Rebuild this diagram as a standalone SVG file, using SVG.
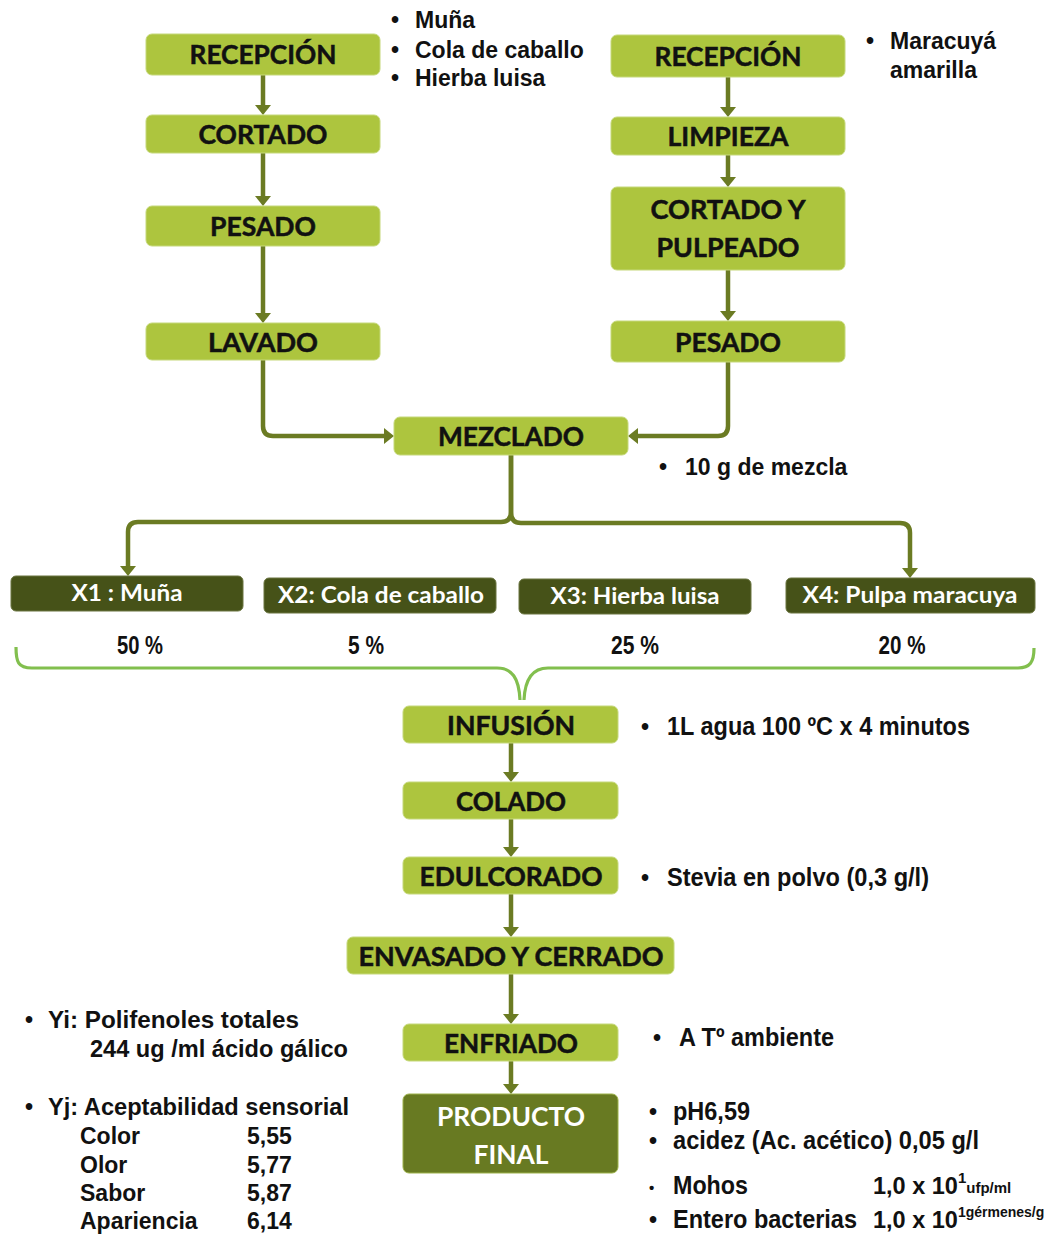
<svg xmlns="http://www.w3.org/2000/svg" width="1061" height="1235" viewBox="0 0 1061 1235">
<defs>
<marker id="ah" markerUnits="userSpaceOnUse" markerWidth="12" markerHeight="18" refX="4" refY="8" orient="auto">
<path d="M0,0 L10,8 L0,16 z" fill="#6B7B23"/>
</marker>
<style>
.step{fill:#ADC53E;stroke:#C5D87A;stroke-width:1}
.dark{fill:#465218;stroke:#6A7540;stroke-width:1}
.final{fill:#687A22;stroke:#9DB24A;stroke-width:1}
.bt{font-family:Lato,"Open Sans",sans-serif;font-weight:bold;font-size:27px;fill:#111;stroke:#111;stroke-width:0.5;text-anchor:middle}
.wt{font-family:Lato,"Open Sans",sans-serif;font-weight:bold;font-size:23px;fill:#fff;text-anchor:middle}
.ft{font-family:Lato,"Open Sans",sans-serif;font-weight:bold;font-size:27px;fill:#fff;text-anchor:middle}
.nt{font-family:"Liberation Sans",Arial,sans-serif;font-weight:bold;font-size:23px;fill:#111}
.nn{font-family:"Liberation Sans",Arial,sans-serif;font-weight:bold;font-size:25px;fill:#111}
.nm{font-family:"Liberation Sans",Arial,sans-serif;font-weight:bold;font-size:23.5px;fill:#111}
.sp{font-family:"Liberation Sans",Arial,sans-serif;font-weight:bold;font-size:15px;fill:#111}
.pc{font-family:"Liberation Sans",Arial,sans-serif;font-weight:bold;font-size:26px;fill:#111;text-anchor:middle}
.conn{fill:none;stroke:#6B7B23;stroke-width:4.5}
.brace{fill:none;stroke:#82BF4E;stroke-width:3.2}
</style>
</defs>
<rect width="1061" height="1235" fill="#fff"/>

<g id="connectors">
<path class="conn" d="M263,75 V109" marker-end="url(#ah)"/>
<path class="conn" d="M263,153 V200" marker-end="url(#ah)"/>
<path class="conn" d="M263,246 V317" marker-end="url(#ah)"/>
<path class="conn" d="M728,77 V111" marker-end="url(#ah)"/>
<path class="conn" d="M728,155 V181" marker-end="url(#ah)"/>
<path class="conn" d="M728,270 V315" marker-end="url(#ah)"/>
<path class="conn" d="M263,360 V426 Q263,436 273,436 H388" marker-end="url(#ah)"/>
<path class="conn" d="M728,362 V426 Q728,436 718,436 H634" marker-end="url(#ah)"/>
<path class="conn" d="M511,455 V512 Q511,522 501,522 H138 Q128,522 128,532 V570" marker-end="url(#ah)"/>
<path class="conn" d="M511,455 V512 Q511,523 521,523 H900 Q910,523 910,533 V572" marker-end="url(#ah)"/>
<path class="conn" d="M511,743 V776" marker-end="url(#ah)"/>
<path class="conn" d="M511,819 V851" marker-end="url(#ah)"/>
<path class="conn" d="M511,894 V931" marker-end="url(#ah)"/>
<path class="conn" d="M511,974 V1018" marker-end="url(#ah)"/>
<path class="conn" d="M511,1061 V1088" marker-end="url(#ah)"/>
<path class="brace" d="M16,647 C16,662 18,668 32,668 L497,668 C512,668 519,678 520,700"/>
<path class="brace" d="M1034,648 C1034,662 1030,668 1018,668 L548,668 C533,668 525,678 524,700"/>
</g>

<g id="n-recepcion1"><rect class="step" x="146" y="34" width="234" height="41" rx="6"/><text class="bt" x="263" y="64" textLength="147" lengthAdjust="spacingAndGlyphs">RECEPCIÓN</text></g>
<g id="n-cortado"><rect class="step" x="146" y="115" width="234" height="38" rx="6"/><text class="bt" x="263" y="144" textLength="129" lengthAdjust="spacingAndGlyphs">CORTADO</text></g>
<g id="n-pesado1"><rect class="step" x="146" y="206" width="234" height="40" rx="6"/><text class="bt" x="263" y="236" textLength="106" lengthAdjust="spacingAndGlyphs">PESADO</text></g>
<g id="n-lavado"><rect class="step" x="146" y="323" width="234" height="37" rx="6"/><text class="bt" x="263" y="352" textLength="110" lengthAdjust="spacingAndGlyphs">LAVADO</text></g>

<g id="n-recepcion2"><rect class="step" x="611" y="35" width="234" height="42" rx="6"/><text class="bt" x="728" y="66" textLength="147" lengthAdjust="spacingAndGlyphs">RECEPCIÓN</text></g>
<g id="n-limpieza"><rect class="step" x="611" y="117" width="234" height="38" rx="6"/><text class="bt" x="728" y="146" textLength="121" lengthAdjust="spacingAndGlyphs">LIMPIEZA</text></g>
<g id="n-cortado-pulpeado"><rect class="step" x="611" y="187" width="234" height="83" rx="6"/><text class="bt" x="728" y="219" textLength="155" lengthAdjust="spacingAndGlyphs">CORTADO Y</text><text class="bt" x="728" y="257" textLength="143" lengthAdjust="spacingAndGlyphs">PULPEADO</text></g>
<g id="n-pesado2"><rect class="step" x="611" y="321" width="234" height="41" rx="6"/><text class="bt" x="728" y="352" textLength="106" lengthAdjust="spacingAndGlyphs">PESADO</text></g>

<g id="n-mezclado"><rect class="step" x="394" y="417" width="234" height="38" rx="6"/><text class="bt" x="511" y="446" textLength="146" lengthAdjust="spacingAndGlyphs">MEZCLADO</text></g>

<g id="n-x1"><rect class="dark" x="11" y="576" width="232" height="35" rx="5"/><text class="wt" x="127" y="601" textLength="111" lengthAdjust="spacingAndGlyphs">X1 : Muña</text></g>
<g id="n-x2"><rect class="dark" x="264" y="578" width="232" height="35" rx="5"/><text class="wt" x="381" y="603" textLength="206" lengthAdjust="spacingAndGlyphs">X2: Cola de caballo</text></g>
<g id="n-x3"><rect class="dark" x="519" y="579" width="232" height="35" rx="5"/><text class="wt" x="635" y="604" textLength="169" lengthAdjust="spacingAndGlyphs">X3: Hierba luisa</text></g>
<g id="n-x4"><rect class="dark" x="786" y="578" width="249" height="35" rx="5"/><text class="wt" x="910" y="603" textLength="215" lengthAdjust="spacingAndGlyphs">X4: Pulpa maracuya</text></g>

<g id="percent">
<text class="pc" x="140" y="654" textLength="46" lengthAdjust="spacingAndGlyphs">50 %</text>
<text class="pc" x="366" y="654" textLength="36" lengthAdjust="spacingAndGlyphs">5 %</text>
<text class="pc" x="635" y="654" textLength="48" lengthAdjust="spacingAndGlyphs">25 %</text>
<text class="pc" x="902" y="654" textLength="47" lengthAdjust="spacingAndGlyphs">20 %</text>
</g>

<g id="n-infusion"><rect class="step" x="403" y="706" width="215" height="37" rx="6"/><text class="bt" x="511" y="735" textLength="128" lengthAdjust="spacingAndGlyphs">INFUSIÓN</text></g>
<g id="n-colado"><rect class="step" x="403" y="782" width="215" height="37" rx="6"/><text class="bt" x="511" y="811" textLength="110" lengthAdjust="spacingAndGlyphs">COLADO</text></g>
<g id="n-edulcorado"><rect class="step" x="403" y="857" width="215" height="37" rx="6"/><text class="bt" x="511" y="886" textLength="183" lengthAdjust="spacingAndGlyphs">EDULCORADO</text></g>
<g id="n-envasado"><rect class="step" x="347" y="937" width="327" height="37" rx="6"/><text class="bt" x="511" y="966" textLength="305" lengthAdjust="spacingAndGlyphs">ENVASADO Y CERRADO</text></g>
<g id="n-enfriado"><rect class="step" x="403" y="1024" width="215" height="37" rx="6"/><text class="bt" x="511" y="1053" textLength="134" lengthAdjust="spacingAndGlyphs">ENFRIADO</text></g>
<g id="n-producto"><rect class="final" x="403" y="1094" width="215" height="79" rx="6"/><text class="ft" x="511" y="1126" textLength="148" lengthAdjust="spacingAndGlyphs">PRODUCTO</text><text class="ft" x="511" y="1164" textLength="75" lengthAdjust="spacingAndGlyphs">FINAL</text></g>

<g id="notes">
<text class="nt" x="391" y="28">•</text><text class="nt" x="415" y="28">Muña</text>
<text class="nt" x="391" y="58">•</text><text class="nt" x="415" y="58">Cola de caballo</text>
<text class="nt" x="391" y="86">•</text><text class="nt" x="415" y="86">Hierba luisa</text>
<text class="nt" x="866" y="49">•</text><text class="nt" x="890" y="49">Maracuyá</text>
<text class="nt" x="890" y="78">amarilla</text>
<text class="nt" x="659" y="475">•</text><text class="nt" x="685" y="475">10 g de mezcla</text>
<text class="nt" x="641" y="735">•</text><text class="nn" x="667" y="735" textLength="303" lengthAdjust="spacingAndGlyphs">1L agua 100 ºC x 4 minutos</text>
<text class="nt" x="641" y="886">•</text><text class="nn" x="667" y="886" textLength="262" lengthAdjust="spacingAndGlyphs">Stevia en polvo (0,3 g/l)</text>
<text class="nt" x="653" y="1046">•</text><text class="nn" x="679" y="1046" textLength="155" lengthAdjust="spacingAndGlyphs">A Tº ambiente</text>

<text class="nt" x="25" y="1028">•</text><text class="nt" x="48" y="1028" textLength="251" lengthAdjust="spacingAndGlyphs">Yi:  Polifenoles totales</text>
<text class="nt" x="90" y="1057" textLength="258" lengthAdjust="spacingAndGlyphs">244 ug /ml ácido gálico</text>
<text class="nt" x="25" y="1115">•</text><text class="nt" x="48" y="1115" textLength="301" lengthAdjust="spacingAndGlyphs">Yj: Aceptabilidad sensorial</text>
<text class="nt" x="80" y="1144">Color</text><text class="nt" x="247" y="1144">5,55</text>
<text class="nt" x="80" y="1173">Olor</text><text class="nt" x="247" y="1173">5,77</text>
<text class="nt" x="80" y="1201">Sabor</text><text class="nt" x="247" y="1201">5,87</text>
<text class="nt" x="80" y="1229">Apariencia</text><text class="nt" x="247" y="1229">6,14</text>

<text class="nt" x="649" y="1120">•</text><text class="nn" x="673" y="1120" textLength="77" lengthAdjust="spacingAndGlyphs">pH6,59</text>
<text class="nt" x="649" y="1149">•</text><text class="nn" x="673" y="1149" textLength="306" lengthAdjust="spacingAndGlyphs">acidez (Ac. acético) 0,05 g/l</text>
<text class="sp" x="649" y="1193">•</text><text class="nn" x="673" y="1194" textLength="75" lengthAdjust="spacingAndGlyphs">Mohos</text>
<text class="nm" x="873" y="1194">1,0 x 10<tspan font-size="15" dy="-11">1</tspan><tspan font-size="15" dy="10">ufp/ml</tspan></text>
<text class="nt" x="649" y="1228">•</text><text class="nn" x="673" y="1228" textLength="184" lengthAdjust="spacingAndGlyphs">Entero bacterias</text>
<text class="nm" x="873" y="1228">1,0 x 10<tspan font-size="14" dy="-11">1gérmenes/g</tspan></text>
</g>
</svg>
